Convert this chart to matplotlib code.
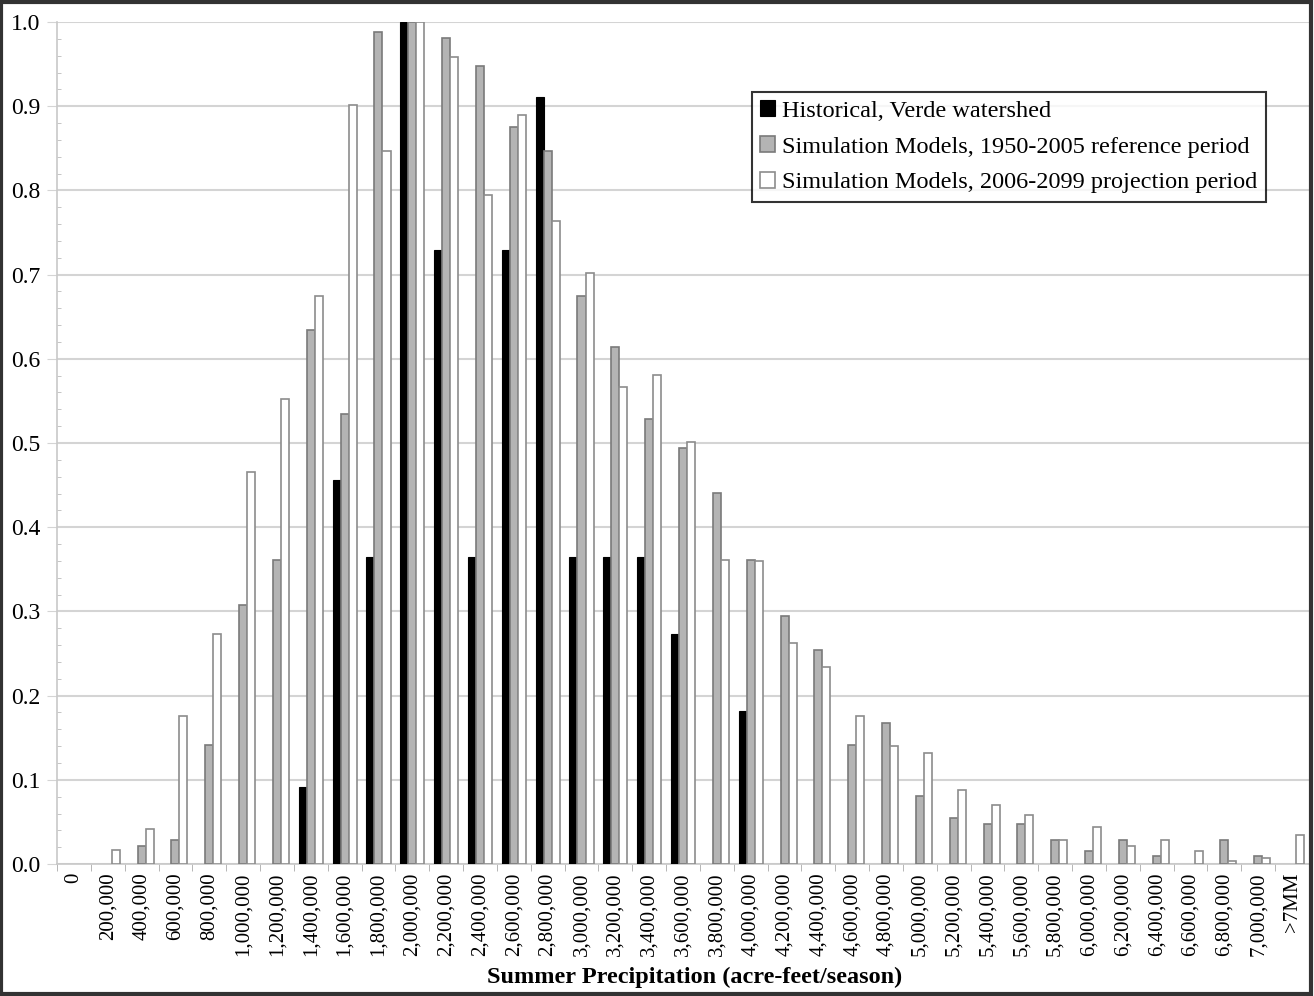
import numpy as np
import matplotlib.pyplot as plt
from matplotlib.patches import Rectangle, Patch
from matplotlib.ticker import MultipleLocator

# Bin labels (acre-feet/season)
categories = ['0', '200,000', '400,000', '600,000', '800,000', '1,000,000',
              '1,200,000', '1,400,000', '1,600,000', '1,800,000', '2,000,000',
              '2,200,000', '2,400,000', '2,600,000', '2,800,000', '3,000,000',
              '3,200,000', '3,400,000', '3,600,000', '3,800,000', '4,000,000',
              '4,200,000', '4,400,000', '4,600,000', '4,800,000', '5,000,000',
              '5,200,000', '5,400,000', '5,600,000', '5,800,000', '6,000,000',
              '6,200,000', '6,400,000', '6,600,000', '6,800,000', '7,000,000',
              '>7MM']

historical = [0, 0, 0, 0, 0, 0,
              0, 0.092, 0.456, 0.365, 1.0,
              0.729, 0.365, 0.729, 0.911, 0.365,
              0.365, 0.365, 0.273, 0, 0.182,
              0, 0, 0, 0, 0,
              0, 0, 0, 0, 0,
              0, 0, 0, 0, 0,
              0]

reference = [0, 0, 0.021, 0.028, 0.141, 0.308,
             0.361, 0.634, 0.535, 0.988, 1.0,
             0.981, 0.948, 0.875, 0.847, 0.675,
             0.614, 0.528, 0.494, 0.441, 0.361,
             0.294, 0.254, 0.141, 0.167, 0.081,
             0.055, 0.048, 0.048, 0.029, 0.015,
             0.028, 0.009, 0, 0.028, 0.009,
             0]

projection = [0, 0.017, 0.042, 0.176, 0.273, 0.466,
              0.552, 0.675, 0.901, 0.847, 1.0,
              0.959, 0.795, 0.890, 0.764, 0.702,
              0.566, 0.581, 0.501, 0.361, 0.360,
              0.263, 0.234, 0.176, 0.140, 0.132,
              0.088, 0.070, 0.058, 0.029, 0.044,
              0.021, 0.029, 0.016, 0.004, 0.007,
              0.035]

series_names = ['Historical, Verde watershed',
                'Simulation Models, 1950-2005 reference period',
                'Simulation Models, 2006-2099 projection period']

serif = ['Liberation Serif', 'DejaVu Serif']
plt.rcParams['font.family'] = serif

fig = plt.figure(figsize=(13.14, 9.96), dpi=100)
ax = fig.add_axes([0.0434, 0.1325, 0.9528, 0.8454])

x = np.arange(len(categories))
w = 0.237

styles = [dict(color='black', edgecolor='black', lw=0.8),
          dict(color='#b4b4b4', edgecolor='#7a7a7a', lw=1.2),
          dict(color='white', edgecolor='#8c8c8c', lw=1.2)]

handles = []
for k, (vals, st, name) in enumerate(zip([historical, reference, projection],
                                         styles, series_names)):
    # no outline for empty bins, so nothing shows on the baseline
    lws = [st['lw'] if v > 0 else 0 for v in vals]
    ax.bar(x + (k - 1) * w, vals, w, color=st['color'], edgecolor=st['edgecolor'],
           linewidth=lws, zorder=3)
    handles.append(Patch(facecolor=st['color'], edgecolor=st['edgecolor'],
                         linewidth=st['lw'], label=name))

ax.set_xlim(-0.5, len(categories) - 0.5)
ax.set_ylim(0, 1.0)
ax.yaxis.set_major_locator(MultipleLocator(0.1))
ax.yaxis.set_minor_locator(MultipleLocator(0.02))
ax.set_yticklabels([f'{v:.1f}' for v in ax.get_yticks()])
ax.grid(axis='y', color='#d4d4d4', linewidth=1.5, zorder=0)
ax.set_axisbelow(True)

ax.set_xticks(x)
ax.set_xticklabels(categories, rotation=90, fontsize=15)
ax.set_xticks(np.arange(-0.5, len(categories), 1), minor=True)
ax.tick_params(axis='x', which='major', length=0, pad=6)
ax.tick_params(axis='x', which='minor', length=5, color='#aaaaaa', direction='out')
ax.tick_params(axis='y', which='major', length=7, color='#d4d4d4', labelsize=17, pad=5)
ax.tick_params(axis='y', which='minor', length=3, color='#bbbbbb', direction='in')

for s in ['top', 'right']:
    ax.spines[s].set_visible(False)
ax.spines['left'].set_color('#c8c8c8')
ax.spines['bottom'].set_color('#c8c8c8')
ax.spines['left'].set_linewidth(1.2)
ax.spines['bottom'].set_linewidth(1.2)

ax.set_xlabel('Summer Precipitation (acre-feet/season)', fontsize=17.5,
              fontweight='bold')
ax.xaxis.set_label_coords(0.509, -0.122)

leg = ax.legend(handles=handles, loc='upper left', bbox_to_anchor=(0.555, 0.917),
                fontsize=17.5, frameon=True, fancybox=False, edgecolor='black',
                handlelength=0.6, handleheight=0.6, handletextpad=0.3,
                borderpad=0.35, labelspacing=0.6, borderaxespad=0)
leg.get_frame().set_linewidth(1.5)

fig.patches.append(Rectangle((0.001, 0.002), 0.997, 0.996, transform=fig.transFigure,
                             fill=False, edgecolor='#333333', linewidth=3))

fig.savefig('out.png', dpi=100)
